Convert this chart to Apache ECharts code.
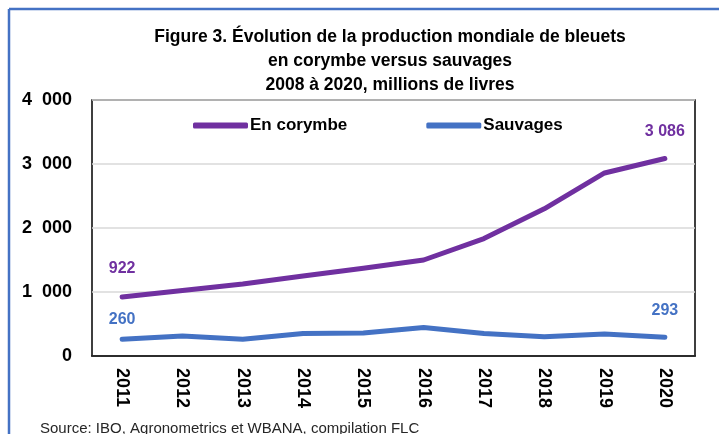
<!DOCTYPE html>
<html>
<head>
<meta charset="utf-8">
<script src="https://cdn.jsdelivr.net/npm/echarts@6/dist/echarts.min.js"></script>
<style>
	html, body { margin: 0; padding: 0; background: #fff; }
	#chart { width: 719px; height: 434px; }
</style>
</head>
<body>
<div id="chart"></div>
<script>
	var years = ['2011', '2012', '2013', '2014', '2015', '2016', '2017', '2018', '2019', '2020'];
	var corymbe = [922, 1025, 1125, 1250, 1370, 1500, 1835, 2300, 2860, 3086];
	var sauvages = [260, 312, 262, 352, 358, 445, 350, 302, 342, 293];
	var yTicks = [0, 1000, 2000, 3000, 4000];

	var font = '"Liberation Sans Narrow", "Arial Narrow", "Liberation Sans", sans-serif';
	var purple = '#7030A0';
	var blue = '#4472C4';

	// étiquettes seulement sur la première et la dernière année
	function withEnds(values, color, dist) {
		return values.map(function(v, i) {
			var item = { value: v };
			var last = i === values.length - 1;
			if (i === 0 || last) {
				item.label = {
					show : true,
					position : 'top',
					distance : last ? dist[1] : dist[0],
					color : color,
					fontFamily : font,
					fontWeight : 'bold',
					fontSize : 16,
					formatter : function(p) {
						return String(p.value).replace(/\B(?=(\d{3})+(?!\d))/g, ' ');
					}
				};
			}
			return item;
		});
	}

	var myChart = echarts.init(document.getElementById('chart'));
	var option = {
		backgroundColor : '#fff',
		animation : false,
		title : {
			text : 'Figure 3. Évolution de la production mondiale de bleuets\nen corymbe versus sauvages\n2008 à 2020, millions de livres',
			left : 385,
			top : 20,
			textAlign : 'center',
			textStyle : {
				fontFamily : font,
				fontWeight : 'bold',
				fontSize : 17.5,
				lineHeight : 24,
				color : '#000'
			}
		},
		legend : {
			left : 188,
			top : 112,
			itemWidth : 55,
			itemHeight : 6,
			itemGap : 79,
			icon : 'roundRect',
			textStyle : {
				fontFamily : font,
				fontWeight : 'bold',
				fontSize : 17,
				color : '#000',
				padding : [0, 0, 0, -3]
			},
			data : ['En corymbe', 'Sauvages']
		},
		grid : {
			left : 92,
			right : 24,
			top : 100,
			bottom : 78,
			show : true,
			borderColor : '#000',
			borderWidth : 1.5
		},
		xAxis : {
			type : 'category',
			data : years,
			boundaryGap : true,
			axisLine : { lineStyle : { color : '#000', width : 1.5 } },
			axisTick : { show : false },
			axisLabel : {
				rotate : -90,
				margin : 12,
				color : '#000',
				fontFamily : font,
				fontWeight : 'bold',
				fontSize : 18
			}
		},
		yAxis : {
			type : 'value',
			min : yTicks[0],
			max : yTicks[yTicks.length - 1],
			interval : 1000,
			axisLine : { show : false },
			axisTick : { show : false },
			splitLine : { lineStyle : { color : '#d9d9d9', width : 1.5 } },
			axisLabel : {
				margin : 20,
				color : '#000',
				fontFamily : font,
				fontWeight : 'bold',
				fontSize : 18,
				formatter : function(v) {
					return v >= 1000 ? Math.floor(v / 1000) + '  000' : String(v);
				}
			}
		},
		series : [ {
			name : 'En corymbe',
			type : 'line',
			data : withEnds(corymbe, purple, [20, 19]),
			symbol : 'circle',
			symbolSize : 0,
			lineStyle : { color : purple, width : 5, cap : 'round', join : 'round' },
			itemStyle : { color : purple }
		}, {
			name : 'Sauvages',
			type : 'line',
			data : withEnds(sauvages, blue, [12, 19]),
			symbol : 'circle',
			symbolSize : 0,
			lineStyle : { color : blue, width : 5, cap : 'round', join : 'round' },
			itemStyle : { color : blue }
		} ],
		graphic : [ {
			type : 'line',
			shape : { x1 : 9, y1 : 9, x2 : 719, y2 : 9 },
			style : { stroke : blue, lineWidth : 2.5 }
		}, {
			type : 'line',
			shape : { x1 : 9, y1 : 9, x2 : 9, y2 : 434 },
			style : { stroke : blue, lineWidth : 2.5 }
		}, {
			type : 'text',
			left : 40,
			top : 421,
			style : {
				text : 'Source: IBO, Agronometrics et WBANA, compilation FLC',
				fontFamily : font,
				fontSize : 15,
				fill : '#262626'
			}
		} ]
	};
	myChart.setOption(option);
</script>
</body>
</html>
